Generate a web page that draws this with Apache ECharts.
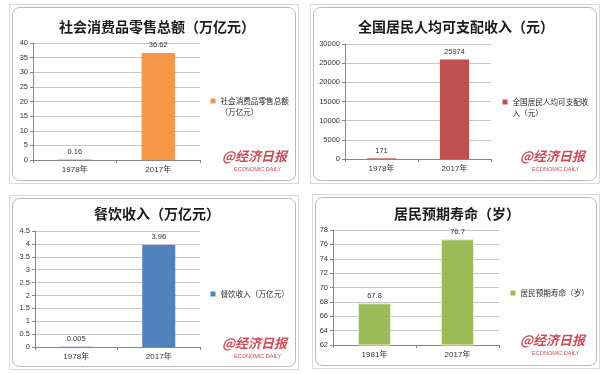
<!DOCTYPE html>
<html><head><meta charset="utf-8">
<script src="https://cdn.jsdelivr.net/npm/echarts@6/dist/echarts.min.js"></script>
<style>html,body{margin:0;padding:0;background:#fff}#c{width:607px;height:374px}</style>
</head><body><div id="c"></div>
<script>
const titles = ['社会消费品零售总额（万亿元）','全国居民人均可支配收入（元）','餐饮收入（万亿元）','居民预期寿命（岁）'];
const cats1 = ['1978年','2017年'];
const vals1 = [0.16, 36.62];
const cats2 = ['1978年','2017年'];
const vals2 = [171, 25974];
const cats3 = ['1978年','2017年'];
const vals3 = [0.005, 3.96];
const cats4 = ['1981年','2017年'];
const vals4 = [67.8, 76.7];
const axisMin = [0, 0, 0, 62];
const axisMax = [40, 30000, 4.5, 78];
const axisStep = [5, 5000, 0.5, 2];
const colors = ['#f79646','#c0504d','#4f81bd','#9bbb59'];
const legendLines = [['社会消费品零售总额','（万亿元）'],['全国居民人均可支配收','入（元）'],['餐饮收入（万亿元）'],['居民预期寿命（岁）']];

const cats = [cats1,cats2,cats3,cats4];
const vals = [vals1,vals2,vals3,vals4];

const grids = [
  {left:33, top:43, width:167, height:117},
  {left:345, top:44, width:146, height:115},
  {left:35, top:231, width:165, height:116},
  {left:333, top:230, width:166, height:115}
];
const titlePos = [[152,15],[451,15],[152,202],[452,202]];
const legendIcon = [[213,101],[505,102],[213,294],[513,293]];
const frames = [[9,4,289,179],[310,4,289,179],[9,195,289,174],[312,194,287,174]];
const marks = [[222,150],[520,150],[222,337],[520,334]];

const font = 'Arial, "Liberation Sans", "Noto Sans CJK SC", sans-serif';
const option = {
  backgroundColor:'#fff',
  animation:false,
  title: titles.map((t,i)=>({text:t,left:titlePos[i][0],top:titlePos[i][1],textAlign:'center',
    textStyle:{fontSize:14,fontWeight:'bold',color:'#1a1a1a',fontFamily:'"Noto Sans CJK SC", sans-serif'}})),
  grid: grids,
  legend: titles.map((t,i)=>{
    const lines = legendLines[i];
    const txt = lines.length > 1 ? ' \n' + lines.join('\n') : lines[0];
    const blockH = lines.length > 1 ? 33 : 11;
    return {
      left:legendIcon[i][0]-2.5, top:legendIcon[i][1]-blockH/2, orient:'vertical', padding:0,
      data:[t], icon:'rect', itemWidth:5, itemHeight:5, itemGap:4,
      itemStyle:{borderWidth:0, color:colors[i]},
      formatter:()=>txt,
      textStyle:{fontSize:7.6, color:'#262626', lineHeight:11, fontFamily:'"Noto Sans CJK SC", sans-serif'}
    };
  }),
  xAxis: cats.map((c,i)=>({type:'category',gridIndex:i,data:c,
    axisLine:{lineStyle:{color:'#868686'}},
    axisTick:{show:true,alignWithLabel:false,length:3,lineStyle:{color:'#868686'}},
    axisLabel:{fontSize:8,color:'#333',margin:6,fontFamily:font}})),
  yAxis: vals.map((v,i)=>({type:'value',gridIndex:i,min:axisMin[i],max:axisMax[i],interval:axisStep[i],
    axisLine:{show:true,lineStyle:{color:'#868686'}},
    axisTick:{show:true,length:3,lineStyle:{color:'#868686'}},
    splitLine:{lineStyle:{color:'#c6c6c6'}},
    axisLabel:{fontSize:7.5,color:'#333',margin:5,fontFamily:font,formatter:(x)=>String(x)}})),
  series: vals.map((v,i)=>({type:'bar',name:titles[i],xAxisIndex:i,yAxisIndex:i,data:v,barWidth:'40%',
    itemStyle:{color:colors[i], borderColor: i===3 ? '#e6f0d6' : colors[i], borderWidth: i===3?1:0},
    label:{show:true,position:'top',fontSize:7.5,color:'#333',distance:4,fontFamily:font}})),
  graphic: [].concat(
    frames.map(f=>({type:'rect',shape:{x:f[0]+0.5,y:f[1]+0.5,width:f[2],height:f[3]},style:{fill:null,stroke:'#d8d8d8',lineWidth:1},z:-2})),
    frames.map(f=>({type:'rect',shape:{x:f[0]+3.5,y:f[1]+3.5,width:f[2]-6,height:f[3]-6,r:7},style:{fill:'#fff',stroke:'#b8b8b8',lineWidth:1},z:-1})),
    marks.map(m=>({type:'text',left:m[0],top:m[1],style:{text:'@经济日报',fill:'#cf4a55',font:'italic bold 13px "Noto Sans CJK SC", sans-serif'}})),
    marks.map(m=>({type:'text',left:m[0]+12,top:m[1]+16,style:{text:'ECONOMIC DAILY',fill:'#cf4a55',font:'5.5px Arial, sans-serif'}}))
  )
};
echarts.init(document.getElementById('c')).setOption(option);
</script></body></html>
